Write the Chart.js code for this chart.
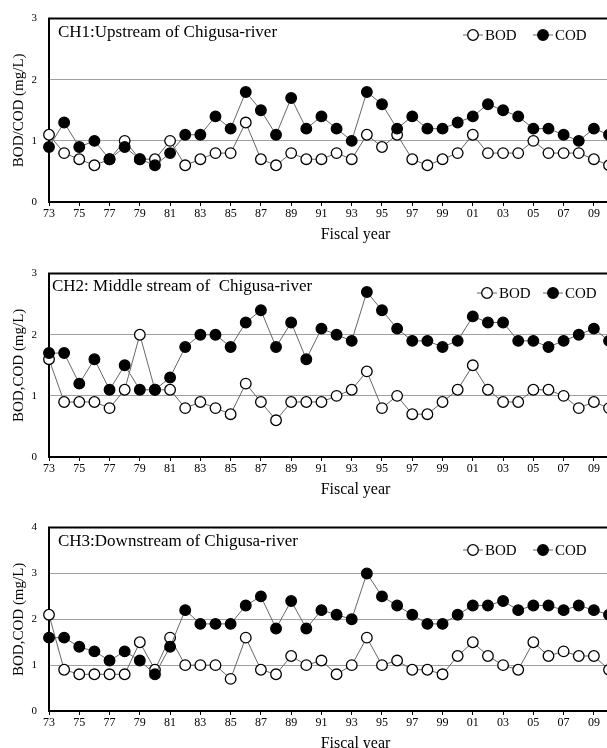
<!DOCTYPE html>
<html><head><meta charset="utf-8">
<script src="https://cdn.jsdelivr.net/npm/chart.js@4/dist/chart.umd.min.js"></script>
<style>
html,body{margin:0;padding:0;background:#fff;overflow:hidden;width:607px;height:748px;}
#wrap{position:relative;width:607px;height:748px;overflow:hidden;background:#fff;}
.panel{position:absolute;left:0;width:700px;height:250px;}
canvas{display:block;}
</style></head><body>
<div id="wrap">
<div class="panel" style="top:0px"><canvas id="c1" width="700" height="250"></canvas></div>
<div class="panel" style="top:255px"><canvas id="c2" width="700" height="250"></canvas></div>
<div class="panel" style="top:509px"><canvas id="c3" width="700" height="250"></canvas></div>
</div>
<script>
const years = [1973,1974,1975,1976,1977,1978,1979,1980,1981,1982,1983,1984,1985,1986,1987,1988,1989,1990,1991,1992,1993,1994,1995,1996,1997,1998,1999,2000,2001,2002,2003,2004,2005,2006,2007,2008,2009,2010];
const tickYears = [1973,1975,1977,1979,1981,1983,1985,1987,1989,1991,1993,1995,1997,1999,2001,2003,2005,2007,2009];
const tickLabels = ['73','75','77','79','81','83','85','87','89','91','93','95','97','99','01','03','05','07','09'];

const ch1BOD = [1.1,0.8,0.7,0.6,0.7,1.0,0.7,0.7,1.0,0.6,0.7,0.8,0.8,1.3,0.7,0.6,0.8,0.7,0.7,0.8,0.7,1.1,0.9,1.1,0.7,0.6,0.7,0.8,1.1,0.8,0.8,0.8,1.0,0.8,0.8,0.8,0.7,0.6];
const ch1COD = [0.9,1.3,0.9,1.0,0.7,0.9,0.7,0.6,0.8,1.1,1.1,1.4,1.2,1.8,1.5,1.1,1.7,1.2,1.4,1.2,1.0,1.8,1.6,1.2,1.4,1.2,1.2,1.3,1.4,1.6,1.5,1.4,1.2,1.2,1.1,1.0,1.2,1.1];
const ch2BOD = [1.6,0.9,0.9,0.9,0.8,1.1,2.0,1.1,1.1,0.8,0.9,0.8,0.7,1.2,0.9,0.6,0.9,0.9,0.9,1.0,1.1,1.4,0.8,1.0,0.7,0.7,0.9,1.1,1.5,1.1,0.9,0.9,1.1,1.1,1.0,0.8,0.9,0.8];
const ch2COD = [1.7,1.7,1.2,1.6,1.1,1.5,1.1,1.1,1.3,1.8,2.0,2.0,1.8,2.2,2.4,1.8,2.2,1.6,2.1,2.0,1.9,2.7,2.4,2.1,1.9,1.9,1.8,1.9,2.3,2.2,2.2,1.9,1.9,1.8,1.9,2.0,2.1,1.9];
const ch3BOD = [2.1,0.9,0.8,0.8,0.8,0.8,1.5,0.9,1.6,1.0,1.0,1.0,0.7,1.6,0.9,0.8,1.2,1.0,1.1,0.8,1.0,1.6,1.0,1.1,0.9,0.9,0.8,1.2,1.5,1.2,1.0,0.9,1.5,1.2,1.3,1.2,1.2,0.9];
const ch3COD = [1.6,1.6,1.4,1.3,1.1,1.3,1.1,0.8,1.4,2.2,1.9,1.9,1.9,2.3,2.5,1.8,2.4,1.8,2.2,2.1,2.0,3.0,2.5,2.3,2.1,1.9,1.9,2.1,2.3,2.3,2.4,2.2,2.3,2.3,2.2,2.3,2.2,2.1];

const SERIF = "'Liberation Serif','DejaVu Serif',serif";

const decor = {
  id: 'decor',
  afterDraw(chart, args, opts) {
    const ctx = chart.ctx, a = chart.chartArea;
    ctx.save();
    ctx.strokeStyle = '#000'; ctx.lineWidth = 2;
    ctx.beginPath(); ctx.moveTo(a.left - 1, a.top); ctx.lineTo(a.right, a.top); ctx.stroke();
    ctx.fillStyle = '#000';
    ctx.font = '17px ' + SERIF;
    ctx.textBaseline = 'middle'; ctx.textAlign = 'left';
    ctx.fillText(opts.title, opts.tx, opts.ty);
    ctx.font = '15px ' + SERIF;
    chart.data.datasets.forEach((ds, i) => {
      const cx = opts.lx[i], cy = opts.ly;
      ctx.strokeStyle = ds.borderColor; ctx.lineWidth = 1;
      ctx.beginPath(); ctx.moveTo(cx - 10, cy); ctx.lineTo(cx + 10, cy); ctx.stroke();
      ctx.beginPath(); ctx.arc(cx, cy, ds.pointRadius, 0, Math.PI * 2);
      ctx.fillStyle = ds.pointBackgroundColor; ctx.fill();
      ctx.strokeStyle = ds.pointBorderColor; ctx.lineWidth = ds.pointBorderWidth; ctx.stroke();
      ctx.fillStyle = '#000';
      ctx.fillText(ds.label, cx + 12, cy + 1);
    });
    ctx.restore();
  }
};

function makeChart(id, title, yTitle, yMax, bod, cod, deco) {
  const yTicks = [];
  for (let v = 0; v <= yMax; v++) yTicks.push(v);
  return new Chart(document.getElementById(id), {
    type: 'line',
    data: {
      datasets: [
        { label: 'BOD', data: years.map((y, i) => ({ x: y, y: bod[i] })), borderColor: '#666', borderWidth: 1, clip: false,
          pointRadius: 5.3, pointBackgroundColor: '#fff', pointBorderColor: '#000', pointBorderWidth: 1.3, tension: 0, order: 2 },
        { label: 'COD', data: years.map((y, i) => ({ x: y, y: cod[i] })), borderColor: '#666', borderWidth: 1, clip: false,
          pointRadius: 5.3, pointBackgroundColor: '#000', pointBorderColor: '#000', pointBorderWidth: 1.3, tension: 0, order: 1 }
      ]
    },
    options: {
      responsive: false, animation: false, devicePixelRatio: 1,
      layout: { padding: { top: 15, left: 0, right: 38, bottom: 0 } },
      plugins: { legend: { display: false }, tooltip: { enabled: false },
        decor: Object.assign({ title: title }, deco) },
      scales: {
        x: {
          type: 'linear', min: 1973, max: 2013.5,
          afterBuildTicks: s => { s.ticks = tickYears.map(v => ({ value: v })); },
          afterFit: s => { s.height = 48; },
          ticks: { callback: (v, i) => tickLabels[i], font: { family: SERIF, size: 12 }, color: '#000', padding: 1, maxRotation: 0, autoSkip: false },
          grid: { drawOnChartArea: false, drawTicks: true, tickLength: 4, color: '#000', tickWidth: 1 },
          border: { color: '#000', width: 2 },
          title: { display: true, text: 'Fiscal year', font: { family: SERIF, size: 16 }, color: '#000', padding: { top: 0, bottom: 6 } }
        },
        y: {
          min: 0, max: yMax,
          afterBuildTicks: s => { s.ticks = yTicks.map(v => ({ value: v })); },
          afterFit: s => { s.width = 49; },
          ticks: { font: { family: SERIF, size: 11 }, color: '#000', padding: 12 },
          grid: { drawTicks: false, lineWidth: 1,
            color: c => (c.tick && (c.tick.value === 0 || c.tick.value === yMax)) ? 'rgba(0,0,0,0)' : '#a0a0a0' },
          border: { color: '#000', width: 2 },
          title: { display: true, text: yTitle, font: { family: SERIF, size: 15 }, color: '#000', padding: { top: 10 } }
        }
      }
    },
    plugins: [decor]
  });
}

makeChart('c1', 'CH1:Upstream of Chigusa-river', 'BOD/COD (mg/L)', 3, ch1BOD, ch1COD,
  { tx: 58, ty: 33, lx: [473, 543], ly: 35 });
makeChart('c2', 'CH2: Middle stream of  Chigusa-river', 'BOD,COD (mg/L)', 3, ch2BOD, ch2COD,
  { tx: 52, ty: 32, lx: [487, 553], ly: 38 });
makeChart('c3', 'CH3:Downstream of Chigusa-river', 'BOD,COD (mg/L)', 4, ch3BOD, ch3COD,
  { tx: 58, ty: 33, lx: [473, 543], ly: 41 });
</script>
</body></html>
